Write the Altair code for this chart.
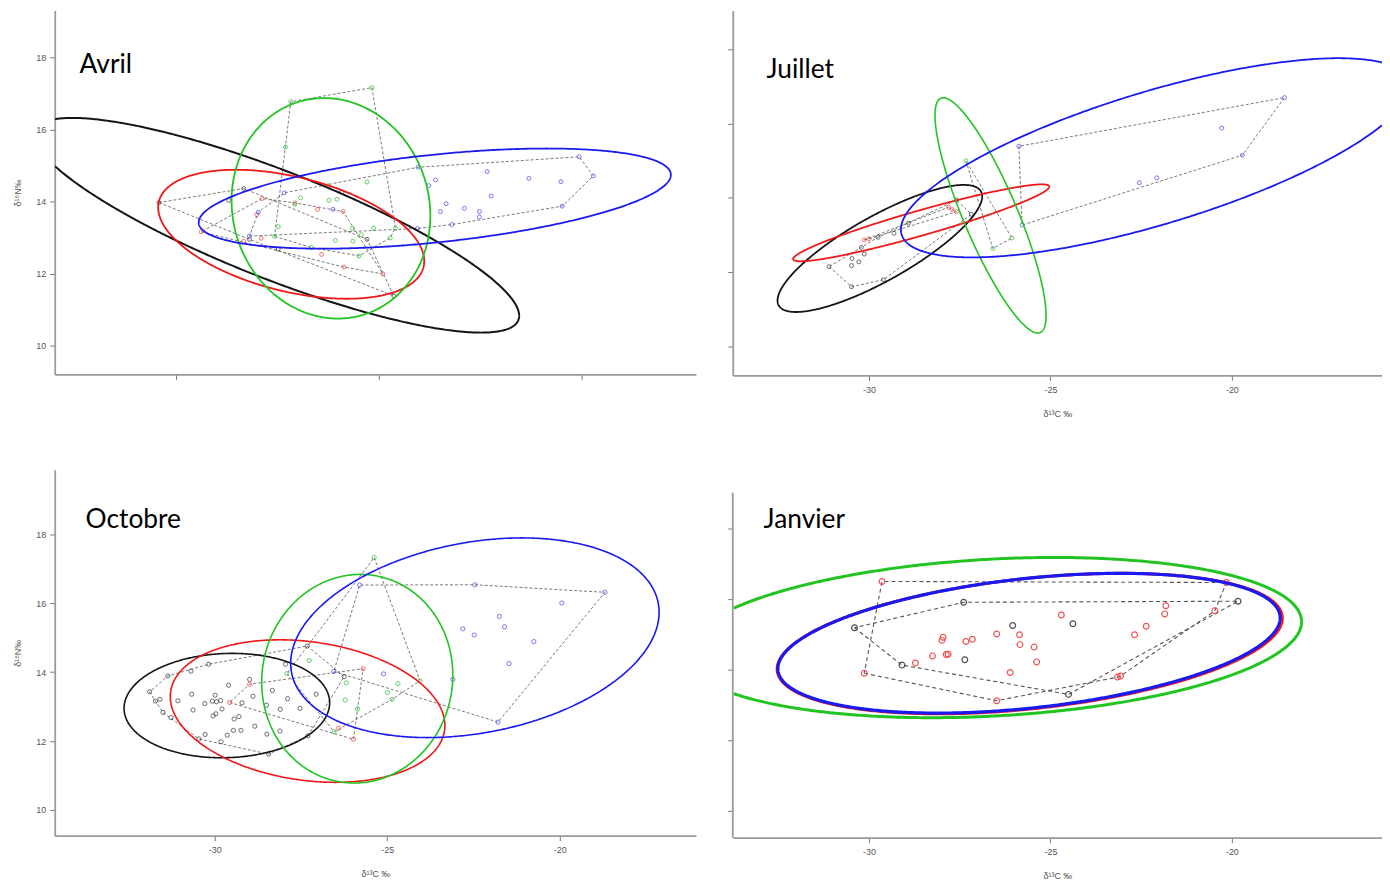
import altair as alt
import numpy as np
import pandas as pd

# ---------------- groups / colours ----------------
GROUPS = ["noir", "rouge", "vert", "bleu"]
LINE_COLORS = ["#151515", "#f01818", "#22c422", "#1a1af0"]
POINT_COLORS = ["#3a3a3a", "#f04040", "#35bd35", "#4848f0"]

X_TICKS = [-30, -25, -20]
Y_TICKS = [10, 12, 14, 16, 18]

# ---------------- Avril ----------------
avril_noir_x = [-30.42, -28.33, -28.70, -25.29, -24.63, -28.19, -27.48]
avril_noir_y = [13.97, 14.36, 14.03, 12.95, 11.38, 12.95, 12.68]
avril_rouge_x = [-29.38, -27.88, -28.01, -27.07, -26.51, -25.88, -27.90, -26.41, -25.86, -24.90, -28.33]
avril_rouge_y = [13.16, 14.08, 13.63, 13.96, 13.78, 13.72, 12.98, 12.53, 12.18, 11.99, 12.90]
avril_vert_x = [-27.17, -25.17, -27.30, -26.25, -25.29, -26.93, -26.23, -26.03, -27.07, -27.48,
                -27.57, -26.66, -26.07, -25.64, -25.65, -25.13, -24.59, -24.72, -25.49, -25.43]
avril_vert_y = [16.77, 17.16, 15.51, 14.44, 14.54, 14.10, 14.03, 14.06, 13.92, 13.30,
                13.03, 12.72, 12.92, 12.90, 13.25, 13.26, 13.26, 12.99, 12.49, 13.08]
avril_bleu_x = [-24.03, -23.60, -23.77, -22.33, -21.30, -20.51, -20.06, -19.71, -22.23, -23.34, -23.48,
                -22.89, -22.52, -22.52, -23.20, -20.48, -24.05, -25.91, -26.13, -27.33, -27.97, -28.19]
avril_bleu_y = [14.95, 14.60, 14.44, 14.83, 14.64, 14.55, 15.24, 14.71, 14.15, 13.94, 13.72,
                13.81, 13.72, 13.57, 13.36, 13.87, 13.25, 14.26, 13.78, 14.24, 13.70, 13.04]
# ellipses (order: noir, rouge, vert, bleu): centre, half-width, y-offset at right end, half-height
avril_ell_cx = [-27.52, -27.16, -26.18, -23.62]
avril_ell_cy = [13.34, 13.09, 13.81, 14.08]
avril_ell_a = [5.98, 3.28, 2.45, 5.82]
avril_ell_c = [-2.51, -0.745, -0.21, 0.66]
avril_ell_h = [2.98, 1.79, 3.06, 1.39]

# ---------------- Juillet ----------------
juillet_noir_x = [-31.10, -30.48, -29.60, -30.47, -30.28, -30.48, -30.13, -30.21, -29.75, -29.31, -28.91, -27.59, -27.18]
juillet_noir_y = [12.15, 11.61, 11.80, 12.37, 12.28, 12.18, 12.49, 12.67, 12.94, 13.05, 13.32, 13.94, 13.56]
juillet_rouge_x = [-30.13, -30.00, -27.71, -27.59, -27.81]
juillet_rouge_y = [12.87, 12.90, 13.69, 13.63, 13.75]
juillet_vert_x = [-27.33, -26.59, -26.06]
juillet_vert_y = [15.00, 12.64, 12.92]
juillet_bleu_x = [-18.55, -20.28, -19.71, -22.07, -22.55, -25.87, -25.78]
juillet_bleu_y = [16.70, 15.88, 15.15, 14.54, 14.41, 15.39, 13.27]
juillet_ell_cx = [-29.70, -28.56, -26.65, -22.11]
juillet_ell_cy = [12.64, 13.33, 13.53, 15.08]
juillet_ell_a = [2.82, 3.53, 1.53, 7.01]
juillet_ell_c = [1.40, 0.974, -2.69, 1.93]
juillet_ell_h = [1.71, 1.035, 3.165, 2.68]

# ---------------- Octobre ----------------
octobre_noir_x = [-31.89, -31.72, -31.59, -31.50, -31.27, -31.36, -31.07, -30.69, -30.67, -30.63, -30.46, -30.28,
                  -30.18, -30.29, -30.07, -29.99, -29.95, -29.79, -29.82, -29.83, -29.97, -30.05, -29.64, -29.60,
                  -29.46, -29.44, -29.30, -29.24, -29.21, -28.99, -28.89, -28.84, -28.50, -28.49, -28.44, -28.33,
                  -28.11, -28.10, -27.95, -27.89, -27.53, -27.32, -27.06, -27.30, -26.25]
octobre_noir_y = [13.43, 13.16, 13.21, 12.83, 12.68, 13.89, 13.17, 14.03, 13.36, 12.90, 12.06, 12.19,
                  14.23, 13.09, 13.16, 13.33, 13.14, 12.93, 11.98, 13.18, 12.79, 12.73, 12.17, 13.62,
                  12.31, 12.64, 12.71, 12.31, 13.11, 13.79, 13.30, 12.43, 13.04, 12.20, 11.62, 13.47,
                  12.29, 12.92, 14.23, 13.23, 12.95, 14.76, 13.36, 12.15, 13.87]
octobre_rouge_x = [-29.57, -28.99, -25.70, -26.41, -25.98]
octobre_rouge_y = [13.12, 13.65, 14.10, 12.37, 12.05]
octobre_vert_x = [-25.38, -27.26, -27.91, -26.19, -24.69, -24.99, -26.22, -24.86, -25.86, -26.54, -24.05]
octobre_vert_y = [17.33, 14.34, 13.96, 13.69, 13.67, 13.41, 13.19, 13.21, 12.93, 12.27, 13.75]
octobre_bleu_x = [-18.69, -19.94, -22.46, -25.80, -21.75, -21.60, -22.81, -22.48, -20.75, -21.47, -25.11, -23.10, -21.79, -26.55]
octobre_bleu_y = [16.32, 16.01, 16.54, 16.53, 15.62, 15.32, 15.26, 15.08, 14.89, 14.25, 13.95, 13.79, 12.55, 14.02]
octobre_ell_cx = [-29.65, -27.31, -25.87, -22.46]
octobre_ell_cy = [13.03, 12.87, 13.81, 15.00]
octobre_ell_a = [2.98, 3.98, 2.77, 5.34]
octobre_ell_c = [0.08, -0.42, 0.10, 0.74]
octobre_ell_h = [1.516, 2.07, 3.03, 2.90]

# ---------------- Janvier ----------------
janvier_noir_x = [-30.40, -27.39, -19.83, -26.04, -24.38, -27.36, -29.09, -24.50]
janvier_noir_y = [15.19, 15.91, 15.94, 15.25, 15.30, 14.28, 14.13, 13.30]
janvier_rouge_x = [-29.64, -20.15, -21.82, -21.85, -20.47, -24.70, -22.36, -22.68, -26.48, -25.85, -25.84, -25.45, -25.38,
                   -26.11, -27.15, -27.33, -27.96, -27.99, -28.25, -27.87, -27.82, -28.72, -30.13, -26.48, -23.15, -23.07]
janvier_rouge_y = [16.50, 16.47, 15.81, 15.58, 15.67, 15.55, 15.23, 14.99, 15.01, 14.99, 14.71, 14.64, 14.22,
                   13.92, 14.86, 14.80, 14.92, 14.83, 14.39, 14.43, 14.44, 14.19, 13.90, 13.12, 13.79, 13.82]
janvier_vert_x = []
janvier_vert_y = []
janvier_bleu_x = []
janvier_bleu_y = []
# no black ellipse in January (None = not drawn)
janvier_ell_cx = [None, -25.57, -26.59, -25.59]
janvier_ell_cy = [None, 14.74, 14.91, 14.75]
janvier_ell_a = [None, 6.96, 8.51, 6.92]
janvier_ell_c = [None, 0.72, 0.45, 0.72]
janvier_ell_h = [None, 1.99, 2.27, 1.98]


def convex_hull(pts):
    pts = sorted(set(pts))
    if len(pts) < 3:
        return pts

    def cross(o, a, b):
        return (a[0] - o[0]) * (b[1] - o[1]) - (a[1] - o[1]) * (b[0] - o[0])

    lower, upper = [], []
    for p in pts:
        while len(lower) >= 2 and cross(lower[-2], lower[-1], p) <= 0:
            lower.pop()
        lower.append(p)
    for p in reversed(pts):
        while len(upper) >= 2 and cross(upper[-2], upper[-1], p) <= 0:
            upper.pop()
        upper.append(p)
    return lower[:-1] + upper[:-1]


def ellipse_frame(cx, cy, a, c, h, xdom, ydom, n=600):
    d = np.sqrt(max(h * h - c * c, 1e-6))
    t = np.linspace(0, 2 * np.pi, n + 1)
    x = cx + a * np.cos(t)
    y = cy + c * np.cos(t) + d * np.sin(t)
    inside = (x >= xdom[0]) & (x <= xdom[1]) & (y >= ydom[0]) & (y <= ydom[1])
    seg = np.cumsum(~inside)
    df = pd.DataFrame({"x": x, "y": y, "seg": seg, "i": np.arange(len(x))})
    return df[inside]


def panel(label, xs, ys, ell, xdom, ydom, w, h, txy, xlabels, xtitle, ylabels, ytitle,
          ew, psize, pstroke, hw, hdash, hcol, ydomain_line=True, ydomain_top=0):
    xscale = alt.Scale(domain=xdom, nice=False, zero=False)
    yscale = alt.Scale(domain=ydom, nice=False, zero=False)
    axis_common = dict(grid=False, tickSize=5, labelFontSize=9, labelColor="#555555",
                       labelFont="Liberation Sans", domainColor="#9a9a9a", domainWidth=1.8,
                       tickColor="#777777", titleFontSize=9, titleColor="#555555",
                       titleFont="Liberation Sans", titleFontWeight="normal")
    xaxis = alt.Axis(values=X_TICKS, labels=xlabels, title=xtitle, labelPadding=5, titlePadding=15,
                     labelExpr="'' + datum.value", **axis_common)
    yaxis = alt.Axis(values=Y_TICKS, labels=ylabels, title=ytitle, labelPadding=4, titlePadding=13,
                     domain=ydomain_line, **axis_common)
    X = alt.X("x:Q", scale=xscale, axis=xaxis)
    Y = alt.Y("y:Q", scale=yscale, axis=yaxis)

    layers = []
    # convex hulls
    for gi, g in enumerate(GROUPS):
        if len(xs[gi]) >= 3:
            hp = convex_hull(list(zip(xs[gi], ys[gi])))
            hp = hp + [hp[0]]
            hdf = pd.DataFrame({"x": [p[0] for p in hp], "y": [p[1] for p in hp], "i": range(len(hp))})
            layers.append(alt.Chart(hdf).mark_line(color=hcol, strokeWidth=hw, strokeDash=hdash, clip=True)
                          .encode(x=X, y=Y, order="i:Q"))
    # points
    for gi, g in enumerate(GROUPS):
        if len(xs[gi]) > 0:
            pdf = pd.DataFrame({"x": xs[gi], "y": ys[gi]})
            layers.append(alt.Chart(pdf).mark_point(shape="circle", filled=False, size=psize,
                                                   strokeWidth=pstroke, color=POINT_COLORS[gi],
                                                   opacity=0.9, clip=True)
                          .encode(x=X, y=Y))
    # ellipses
    cxs, cys, As, Cs, Hs = ell
    for gi, g in enumerate(GROUPS):
        if cxs[gi] is None:
            continue
        edf = ellipse_frame(cxs[gi], cys[gi], As[gi], Cs[gi], Hs[gi], xdom, ydom)
        layers.append(alt.Chart(edf).mark_line(color=LINE_COLORS[gi], strokeWidth=ew[gi], clip=True)
                      .encode(x=X, y=Y, detail="seg:N", order="i:Q"))
    # shortened y axis line (when the axis starts below the top of the panel)
    if not ydomain_line:
        rdf = pd.DataFrame({"k": [0]})
        layers.append(alt.Chart(rdf).mark_rule(color="#9a9a9a", strokeWidth=1.8)
                      .encode(x=alt.value(0), y=alt.value(ydomain_top), y2=alt.value(h)))
    # panel label
    tdf = pd.DataFrame({"t": [label]})
    layers.append(alt.Chart(tdf).mark_text(font="Lato", fontSize=26.5, align="left", baseline="alphabetic",
                                           color="#000000")
                  .encode(x=alt.value(txy[0]), y=alt.value(txy[1]), text="t:N"))
    return alt.layer(*layers).properties(width=w, height=h)


XT = "δ¹³C ‰"
YT = "δ¹⁵N‰"

A = panel("Avril",
          [avril_noir_x, avril_rouge_x, avril_vert_x, avril_bleu_x],
          [avril_noir_y, avril_rouge_y, avril_vert_y, avril_bleu_y],
          (avril_ell_cx, avril_ell_cy, avril_ell_a, avril_ell_c, avril_ell_h),
          [-32.99, -17.18], [9.20, 19.30], 645, 366, (25, 63),
          False, None, True, YT, [2.0, 1.8, 1.8, 1.8], 16, 0.8, 0.9, [3, 2], "#6a6a6a")
B = panel("Juillet",
          [juillet_noir_x, juillet_rouge_x, juillet_vert_x, juillet_bleu_x],
          [juillet_noir_y, juillet_rouge_y, juillet_vert_y, juillet_bleu_y],
          (juillet_ell_cx, juillet_ell_cy, juillet_ell_a, juillet_ell_c, juillet_ell_h),
          [-33.753, -15.863], [9.224, 19.043], 653, 367, (34, 68),
          True, XT, False, None, [1.8, 1.8, 1.6, 1.8], 16, 0.8, 0.9, [3, 2], "#6a6a6a")
C = panel("Octobre",
          [octobre_noir_x, octobre_rouge_x, octobre_vert_x, octobre_bleu_x],
          [octobre_noir_y, octobre_rouge_y, octobre_vert_y, octobre_bleu_y],
          (octobre_ell_cx, octobre_ell_cy, octobre_ell_a, octobre_ell_c, octobre_ell_h),
          [-34.64, -16.05], [9.249, 19.877], 645, 368, (31, 58),
          True, XT, True, YT, [1.6, 1.6, 1.6, 1.6], 18, 0.8, 0.9, [3, 2], "#6a6a6a")
D = panel("Janvier",
          [janvier_noir_x, janvier_rouge_x, janvier_vert_x, janvier_bleu_x],
          [janvier_noir_y, janvier_rouge_y, janvier_vert_y, janvier_bleu_y],
          (janvier_ell_cx, janvier_ell_cy, janvier_ell_a, janvier_ell_c, janvier_ell_h),
          [-33.753, -15.863], [9.239, 19.662], 653, 370, (31, 58),
          True, XT, False, None, [2.5, 3.0, 3.0, 3.2], 34, 1.2, 1.1, [4, 3], "#555555",
          ydomain_line=False, ydomain_top=23)

chart = (alt.concat(A, B, C, D, columns=2, bounds="flush", spacing={"row": 95, "column": 37})
         .properties(padding={"left": 5, "top": 0, "right": 0, "bottom": 0})
         .configure_view(stroke=None))

chart.save("out.html", embed_options={"renderer": "svg", "actions": False})
